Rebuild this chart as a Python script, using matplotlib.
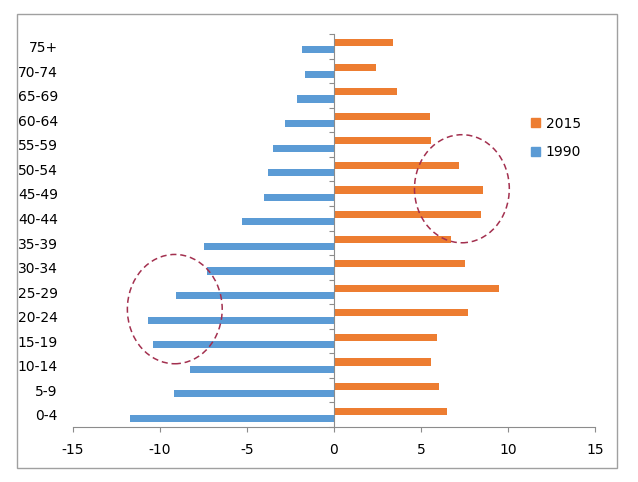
import matplotlib
matplotlib.use('Agg')
import matplotlib.pyplot as plt
import numpy as np
from matplotlib.patches import Ellipse, Rectangle, Patch
from matplotlib.transforms import blended_transform_factory

plt.rcParams['font.family'] = 'DejaVu Sans'
plt.rcParams['axes.unicode_minus'] = False

ages = ['0-4', '5-9', '10-14', '15-19', '20-24', '25-29', '30-34', '35-39',
        '40-44', '45-49', '50-54', '55-59', '60-64', '65-69', '70-74', '75+']
pop_1990 = [-11.7, -9.2, -8.25, -10.4, -10.7, -9.1, -7.3, -7.5,
            -5.3, -4.05, -3.8, -3.5, -2.8, -2.15, -1.65, -1.85]
pop_2015 = [6.5, 6.05, 5.55, 5.9, 7.7, 9.5, 7.5, 6.7,
            8.45, 8.55, 7.2, 5.55, 5.5, 3.6, 2.4, 3.4]
xticks = [-15, -10, -5, 0, 5, 10, 15]

blue = '#5B9BD5'
orange = '#ED7D31'
grey = '#8C8C8C'
ring = '#A3304F'

fig = plt.figure(figsize=(6.38, 4.82), dpi=100)
ax = fig.add_axes([73/638, 1-427/482, 522/638, 393/482])

y = np.arange(len(ages))
ax.barh(y - 0.148, pop_1990, height=0.29, color=blue, label='1990')
ax.barh(y + 0.148, pop_2015, height=0.29, color=orange, label='2015')

ax.set_xlim(-15, 15)
ax.set_ylim(-0.5, len(ages) - 0.5)

for s in ['top', 'right']:
    ax.spines[s].set_visible(False)
ax.spines['left'].set_position(('data', 0))
ax.spines['left'].set_color(grey)
ax.spines['bottom'].set_color(grey)

ax.set_yticks(np.arange(len(ages) + 1) - 0.5)
ax.set_yticklabels([])
ax.tick_params(axis='y', direction='out', length=3.5, color=grey)
ax.set_xticks(xticks)
ax.set_xticklabels([str(v) for v in xticks], fontsize=10)
ax.tick_params(axis='x', direction='out', length=3.5, color=grey, pad=8)

# category labels at the left edge of the plot
tr = blended_transform_factory(ax.transAxes, ax.transData)
for yi, lab in zip(y, ages):
    ax.text(-0.029, yi - 0.07, lab, transform=tr, ha='right', va='center', fontsize=10)

# dashed rings
ax.add_patch(Ellipse((-9.15, 4.3), 5.45, 4.45, fill=False, ls=(0, (4, 2.5)),
                     lw=1.1, ec=ring, zorder=5))
ax.add_patch(Ellipse((7.35, 9.2), 5.45, 4.4, fill=False, ls=(0, (4, 2.5)),
                     lw=1.1, ec=ring, zorder=5))

handles = [Patch(color=orange, label='2015'), Patch(color=blue, label='1990')]
fig.legend(handles=handles, loc='upper left', bbox_to_anchor=(518/638, 1-104/482),
           frameon=False, fontsize=10, handlelength=0.65, handleheight=0.65,
           handletextpad=0.45, labelspacing=1.05)

fig.patches.append(Rectangle((17/638, 1-468/482), 600/638, 454/482, transform=fig.transFigure,
                             fill=False, ec='#A0A0A0', lw=1))

fig.savefig('out.png', dpi=100)
